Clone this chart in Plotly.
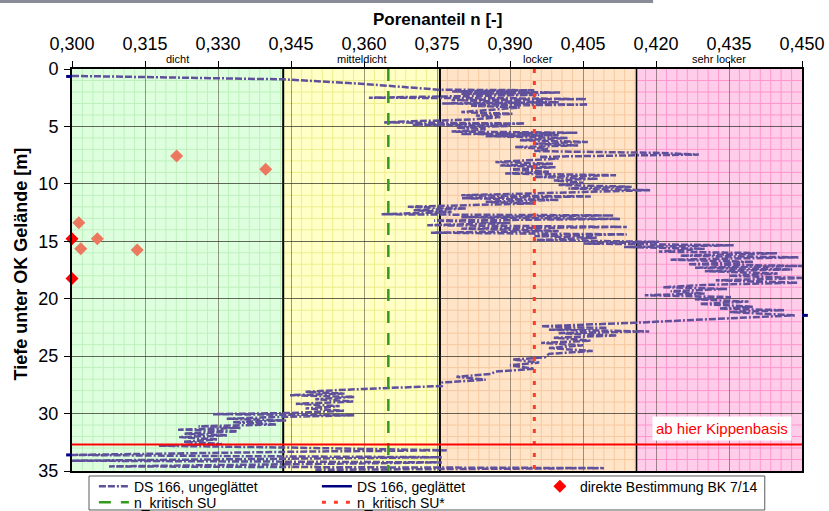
import plotly.graph_objects as go

FONT = "Liberation Sans, Arial, sans-serif"

# ---------------- data ----------------
depth_raw = [0.60, 0.75, 0.90, 1.30, 1.80, 1.85, 1.95, 2.05, 2.15, 2.25, 2.40, 2.50, 2.55, 2.62, 2.70,
             2.80, 2.90, 3.00, 3.10, 3.20, 3.35, 3.55, 3.75, 3.90, 4.05, 4.20, 4.40, 4.55, 4.65, 4.75,
             4.85, 4.95, 5.10, 5.25, 5.45, 5.55, 5.65, 5.75, 5.85, 6.00, 6.20, 6.35, 6.50, 6.65, 6.80,
             6.95, 7.15, 7.30, 7.45, 7.55, 7.65, 7.80, 8.10, 8.25, 8.40, 8.55, 8.75, 8.95, 9.10, 9.25,
             9.40, 9.55, 9.70, 9.90, 10.10, 10.25, 10.40, 10.55, 10.70, 10.90, 11.00, 11.10, 11.25, 11.40, 11.55,
             11.70, 11.85, 12.00, 12.15, 12.30, 12.45, 12.65, 12.75, 12.90, 13.05, 13.20, 13.40, 13.60, 13.75, 13.90,
             14.10, 14.25, 14.40, 14.55, 14.70, 14.90, 15.05, 15.20, 15.35, 15.50, 15.65, 15.90, 16.05, 16.25, 16.40,
             16.60, 16.80, 17.00, 17.15, 17.30, 17.45, 17.60, 17.80, 18.00, 18.20, 18.40, 18.60, 18.80, 19.00, 19.15,
             19.35, 19.55, 19.70, 19.85, 20.05, 20.25, 20.45, 20.70, 20.85, 21.00, 21.15, 21.45, 21.80, 22.10, 22.40,
             22.55, 22.70, 22.85, 23.00, 23.20, 23.40, 23.65, 23.85, 24.05, 24.30, 24.55, 24.80, 25.10, 25.30, 25.55,
             25.80, 26.10, 26.35, 26.55, 26.80, 27.05, 27.30, 27.60, 27.85, 28.10, 28.25, 28.40, 28.55, 28.75, 28.95,
             29.15, 29.35, 29.55, 29.75, 29.95, 30.05, 30.15, 30.30, 30.45, 30.60, 30.75, 30.95, 31.10, 31.25, 31.40,
             31.55, 31.75, 31.90, 32.05, 32.25, 32.45, 32.65, 32.80, 32.95, 33.10, 33.20, 33.30, 33.50, 33.60, 33.70,
             33.80, 33.95, 34.10, 34.25, 34.45, 34.60, 34.75, 34.90]
n_raw = [0.3000, 0.3200, 0.3434, 0.3600, 0.3752, 0.3950, 0.3780, 0.4005, 0.3800, 0.3960, 0.3760, 0.3610, 0.3900, 0.4056, 0.3780,
         0.3850, 0.4000, 0.3760, 0.4060, 0.3820, 0.3920, 0.3850, 0.3800, 0.3905, 0.3830, 0.3880, 0.3820, 0.3700, 0.3640, 0.3930,
         0.3700, 0.3900, 0.3790, 0.3850, 0.3780, 0.4040, 0.3800, 0.4000, 0.3850, 0.4020, 0.3920, 0.4060, 0.3950, 0.4040, 0.3910,
         0.3980, 0.3950, 0.4200, 0.4288, 0.4100, 0.3960, 0.4000, 0.3870, 0.3990, 0.3880, 0.3995, 0.3900, 0.3980, 0.3890, 0.4118,
         0.3950, 0.4080, 0.3990, 0.4050, 0.4000, 0.4150, 0.4020, 0.4188, 0.4050, 0.3900, 0.3800, 0.4066, 0.3800, 0.4000, 0.3850,
         0.3950, 0.3800, 0.3690, 0.3810, 0.3700, 0.3780, 0.3635, 0.4112, 0.3800, 0.4126, 0.3744, 0.3900, 0.3730, 0.4140, 0.3800,
         0.4000, 0.3736, 0.4140, 0.3950, 0.4080, 0.3950, 0.4206, 0.4050, 0.4360, 0.4134, 0.4300, 0.4206, 0.4450, 0.4250, 0.4494,
         0.4230, 0.4400, 0.4266, 0.4500, 0.4280, 0.4480, 0.4300, 0.4450, 0.4350, 0.4500, 0.4323, 0.4490, 0.4300, 0.4214, 0.4346,
         0.4230, 0.4300, 0.4177, 0.4354, 0.4280, 0.4390, 0.4290, 0.4400, 0.4330, 0.4463, 0.4350, 0.4486, 0.4300, 0.4155, 0.3964,
         0.4100, 0.3980, 0.4186, 0.4000, 0.4120, 0.3990, 0.4066, 0.3964, 0.4050, 0.3980, 0.4070, 0.3980, 0.3972, 0.3906, 0.3960,
         0.3900, 0.3950, 0.3870, 0.3860, 0.3790, 0.3850, 0.3760, 0.3760, 0.3600, 0.3480, 0.3560, 0.3448, 0.3580, 0.3500, 0.3580,
         0.3460, 0.3550, 0.3480, 0.3560, 0.3450, 0.3288, 0.3580, 0.3420, 0.3318, 0.3440, 0.3330, 0.3420, 0.3260, 0.3347, 0.3218,
         0.3340, 0.3230, 0.3320, 0.3220, 0.3300, 0.3230, 0.3308, 0.3177, 0.3430, 0.3600, 0.3770, 0.3500, 0.3200, 0.3000, 0.3300,
         0.3760, 0.3400, 0.3000, 0.3760, 0.3300, 0.3076, 0.4093, 0.3500]

# smoothed profile: only its out-of-range ends show at the plot border
smooth_depth = [0.65, None, 21.45, None, 33.6]
smooth_n = [0.2990, None, 0.4510, None, 0.2990]

bk_depth = [14.77, 7.57, 8.73, 13.38, 14.77, 15.64, 15.75, 18.25]
bk_n = [0.3000, 0.3215, 0.3398, 0.3014, 0.3052, 0.3018, 0.3134, 0.3000]

zone_names = ["dicht", "mitteldicht", "locker", "sehr locker"]
zone_edges = [0.300, 0.3434, 0.3756, 0.4160, 0.450]

n_krit_su = 0.365
n_krit_su_star = 0.395
kippenbasis_depth = 32.7

x_tick_vals = [0.300, 0.315, 0.330, 0.345, 0.360, 0.375, 0.390, 0.405, 0.420, 0.435, 0.450]
x_tick_text = ["0,300", "0,315", "0,330", "0,345", "0,360", "0,375", "0,390", "0,405", "0,420", "0,435", "0,450"]
y_tick_vals = [0, 5, 10, 15, 20, 25, 30, 35]

# ---------------- styling ----------------
zone_fill = ["rgb(222,255,222)", "rgb(255,255,198)", "rgb(255,228,200)", "rgb(255,204,234)"]
zone_minor = ["rgb(190,240,190)", "rgb(238,238,140)", "rgb(245,200,160)", "rgb(255,150,205)"]
X0, X1 = x_tick_vals[0], x_tick_vals[-1]
Y0, Y1 = y_tick_vals[0], y_tick_vals[-1]
mdx = 0.015 / 7
NAVY = "rgb(0,0,128)"

shapes = []
for i in range(4):
    a, b = zone_edges[i], zone_edges[i + 1]
    shapes.append(dict(type="rect", xref="x", yref="y", x0=a, x1=b, y0=Y0, y1=Y1,
                       fillcolor=zone_fill[i], line=dict(width=0), layer="below"))
    p = []
    k = 1
    while True:
        xv = X0 + k * mdx
        if xv >= b - 1e-9:
            break
        if xv > a + 1e-9 and k % 7 != 0:
            p.append(f"M{xv:.5f},{Y0} L{xv:.5f},{Y1}")
        k += 1
    for d in range(Y0 + 1, Y1):
        if d % 5:
            p.append(f"M{a},{d} L{b},{d}")
    shapes.append(dict(type="path", xref="x", yref="y", path=" ".join(p),
                       line=dict(color=zone_minor[i], width=1), layer="below"))

for j, e in enumerate(zone_edges[1:-1]):
    shapes.append(dict(type="line", xref="x", yref="y", x0=e, x1=e, y0=Y0, y1=Y1,
                       line=dict(color="black", width=2 if j < 2 else 1.5), layer="below"))

# out-of-range ends of the smoothed profile, drawn at the border
for sn, sd in zip(smooth_n, smooth_depth):
    if sn is None:
        continue
    xp = (sn - X0) / (X1 - X0)
    yp = 1 - (sd - Y0) / (Y1 - Y0)
    edge = 0.0 if xp < 0 else 1.0
    shapes.append(dict(type="line", xref="paper", yref="paper", x0=edge, x1=edge + (xp - edge) * 1.2,
                       y0=yp, y1=yp, line=dict(color=NAVY, width=3)))

# Kippenbasis
shapes.append(dict(type="line", xref="x", yref="y", x0=X0, x1=X1, y0=kippenbasis_depth, y1=kippenbasis_depth,
                   line=dict(color="rgb(255,0,0)", width=2), layer="above"))
# top gray bar
shapes.append(dict(type="rect", xref="paper", yref="paper", x0=-0.1, x1=0.796, y0=1.164, y1=1.175,
                   fillcolor="rgb(135,140,150)", line=dict(width=0)))
# legend frame
shapes.append(dict(type="rect", xref="paper", yref="paper", x0=0.0233, x1=0.949, y0=-0.0124, y1=-0.097,
                   fillcolor="rgba(0,0,0,0)", line=dict(color="rgb(90,90,90)", width=1)))

fig = go.Figure()

fig.add_trace(go.Scatter(x=n_raw, y=depth_raw, mode="lines", name="DS 166, ungeglättet",
                         line=dict(color="rgb(95,80,155)", width=2.5, dash="7px,2px,7px,2px,2px,2px"),
                         legend="legend", hoverinfo="skip"))
fig.add_trace(go.Scatter(x=smooth_n, y=smooth_depth, mode="lines", name="DS 166, geglättet",
                         line=dict(color=NAVY, width=2.5), connectgaps=False,
                         legend="legend", hoverinfo="skip"))
fig.add_trace(go.Scatter(x=[n_krit_su, n_krit_su], y=[Y0, Y1], mode="lines", name="n_kritisch SU",
                         line=dict(color="rgb(50,155,30)", width=2.5, dash="12px,10px"), legend="legend2"))
fig.add_trace(go.Scatter(x=[n_krit_su_star, n_krit_su_star], y=[Y0, Y1], mode="lines", name="n_kritisch SU*",
                         line=dict(color="rgb(255,60,40)", width=3, dash="4px,8px"), legend="legend2"))
bk_colors = ["rgb(255,0,0)" if v <= X0 else "rgb(236,120,95)" for v in bk_n]
fig.add_trace(go.Scatter(x=bk_n, y=bk_depth, mode="markers", name="direkte Bestimmung BK 7/14",
                         marker=dict(symbol="diamond", size=10, color=bk_colors, line=dict(width=0)),
                         cliponaxis=False, legend="legend"))

annotations = []
for i, nm in enumerate(zone_names):
    annotations.append(dict(x=(zone_edges[i] + zone_edges[i + 1]) / 2, y=1.0, xref="x", yref="paper",
                            text=nm, showarrow=False, xanchor="center", yanchor="bottom", yshift=2,
                            font=dict(family=FONT, size=11, color="black")))
annotations.append(dict(x=0.4336, y=31.33, xref="x", yref="y", text="ab hier Kippenbasis", showarrow=False,
                        xanchor="center", yanchor="middle",
                        bgcolor="white", font=dict(family=FONT, size=15, color="rgb(255,0,0)"), borderpad=3))
annotations.append(dict(x=0.5, y=1.122, xref="paper", yref="paper", text="<b>Porenanteil n [-]</b>",
                        xanchor="center", yanchor="middle",
                        showarrow=False, font=dict(family=FONT, size=17, color="black")))
annotations.append(dict(x=-0.070, y=0.516, xref="paper", yref="paper", text="<b>Tiefe unter OK Gelände [m]</b>",
                        xanchor="center", yanchor="middle",
                        showarrow=False, textangle=-90, font=dict(family=FONT, size=18, color="black")))

leg_common = dict(orientation="h", xanchor="left", yanchor="top", entrywidth=178, entrywidthmode="pixels",
                  font=dict(family=FONT, size=14, color="black"), bgcolor="rgba(0,0,0,0)", borderwidth=0,
                  tracegroupgap=0)

fig.update_layout(
    width=829, height=511,
    margin=dict(l=72, r=27, t=69, b=40, autoexpand=False),
    paper_bgcolor="white", plot_bgcolor="white",
    font=dict(family=FONT, color="black"),
    showlegend=True,
    legend=dict(x=0.030, y=0.001, **leg_common),
    legend2=dict(x=0.030, y=-0.039, **leg_common),
    shapes=shapes,
    annotations=annotations,
    xaxis=dict(side="top", range=[X0, X1], tickvals=x_tick_vals, ticktext=x_tick_text,
               ticks="outside", ticklen=6, tickcolor="black", tickwidth=1, ticklabelstandoff=4,
               tickfont=dict(family=FONT, size=18, color="black"), automargin=False,
               showgrid=True, gridcolor="rgba(60,50,40,0.5)", gridwidth=1,
               showline=True, linecolor="black", linewidth=2, mirror=True, zeroline=False),
    yaxis=dict(range=[Y1, Y0], tickvals=y_tick_vals, ticks="outside", ticklen=6, tickcolor="black",
               ticklabelstandoff=2,
               tickfont=dict(family=FONT, size=18, color="black"), automargin=False,
               showgrid=True, gridcolor="rgba(40,40,30,0.7)", gridwidth=1,
               showline=True, linecolor="black", linewidth=2, mirror=True, zeroline=False),
)

fig.write_html("out.html", config={"displayModeBar": False},
               post_script="document.body.style.margin='0px';document.body.style.padding='0px';")
